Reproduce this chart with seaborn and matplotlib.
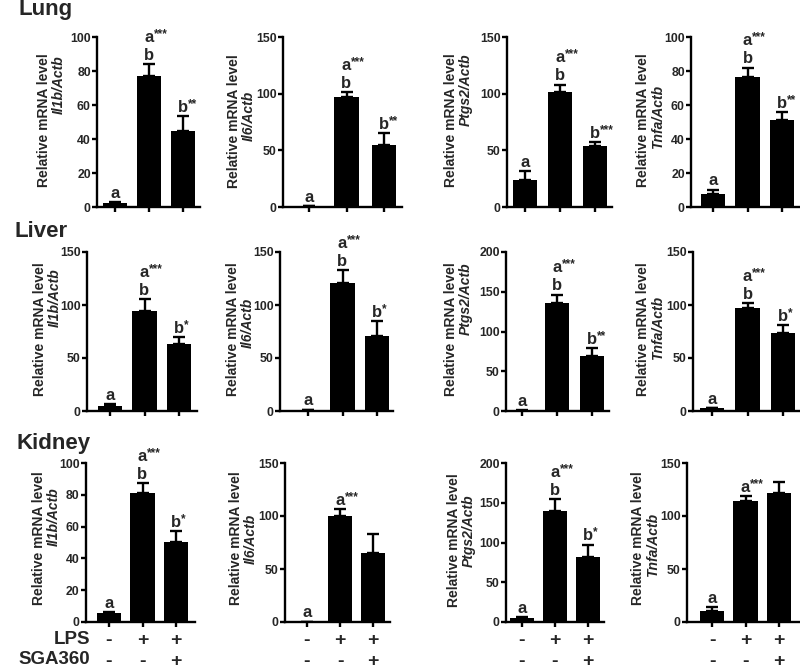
import numpy as np
import pandas as pd
import matplotlib
matplotlib.use("Agg")
import matplotlib.pyplot as plt
import seaborn as sns

sns.set_theme(style="ticks")
plt.rcParams["font.family"] = ["Liberation Sans", "DejaVu Sans"]
plt.rcParams["font.weight"] = "bold"

# ---------------- data ----------------
groups = ["Control", "LPS", "LPS+SGA360"]
lps_signs = ["-", "+", "+"]
sga_signs = ["-", "-", "+"]
tissues = ["Lung", "Liver", "Kidney"]
genes = ["Il1b", "Il6", "Ptgs2", "Tnfa"]

lung_il1b_mean = [2.5, 77, 45]
lung_il1b_sem = [0.3, 7, 8.5]
lung_il6_mean = [0.5, 97, 55]
lung_il6_sem = [0.2, 4.5, 10.5]
lung_ptgs2_mean = [23.5, 101.5, 53.5]
lung_ptgs2_sem = [8.3, 6.5, 4.1]
lung_tnfa_mean = [7.8, 76.5, 51.4]
lung_tnfa_sem = [2.4, 5.5, 4.6]

liver_il1b_mean = [5, 94.7, 63]
liver_il1b_sem = [1.3, 10.8, 7]
liver_il6_mean = [1, 120.6, 71]
liver_il6_sem = [0.3, 12, 14]
liver_ptgs2_mean = [0.5, 135.6, 69]
liver_ptgs2_sem = [0.2, 10.9, 10.6]
liver_tnfa_mean = [2.5, 97.5, 74]
liver_tnfa_sem = [0.5, 4, 7]

kidney_il1b_mean = [5.7, 81, 50.3]
kidney_il1b_sem = [0.6, 6.4, 7.1]
kidney_il6_mean = [0.3, 100, 65]
kidney_il6_sem = [0.1, 6.6, 17.7]
kidney_ptgs2_mean = [5, 139, 81.8]
kidney_ptgs2_sem = [1.3, 16, 15.5]
kidney_tnfa_mean = [10, 113.8, 121.7]
kidney_tnfa_sem = [4, 5.1, 10.1]

# significance letters, per bar listed bottom-to-top
lung_labels = [
    [["a"], ["b", "a***"], ["b**"]],
    [["a"], ["b", "a***"], ["b**"]],
    [["a"], ["b", "a***"], ["b***"]],
    [["a"], ["b", "a***"], ["b**"]],
]
liver_labels = [
    [["a"], ["b", "a***"], ["b*"]],
    [["a"], ["b", "a***"], ["b*"]],
    [["a"], ["b", "a***"], ["b**"]],
    [["a"], ["b", "a***"], ["b*"]],
]
kidney_labels = [
    [["a"], ["b", "a***"], ["b*"]],
    [["a"], ["a***"], []],
    [["a"], ["b", "a***"], ["b*"]],
    [["a"], ["a***"], []],
]

# y-axis max and tick step per panel
lung_ymax = [100, 150, 150, 100]
lung_ystep = [20, 50, 50, 20]
liver_ymax = [150, 150, 200, 150]
liver_ystep = [50, 50, 50, 50]
kidney_ymax = [100, 150, 200, 150]
kidney_ystep = [20, 50, 50, 50]

means = [
    [lung_il1b_mean, lung_il6_mean, lung_ptgs2_mean, lung_tnfa_mean],
    [liver_il1b_mean, liver_il6_mean, liver_ptgs2_mean, liver_tnfa_mean],
    [kidney_il1b_mean, kidney_il6_mean, kidney_ptgs2_mean, kidney_tnfa_mean],
]
sems = [
    [lung_il1b_sem, lung_il6_sem, lung_ptgs2_sem, lung_tnfa_sem],
    [liver_il1b_sem, liver_il6_sem, liver_ptgs2_sem, liver_tnfa_sem],
    [kidney_il1b_sem, kidney_il6_sem, kidney_ptgs2_sem, kidney_tnfa_sem],
]
labels = [lung_labels, liver_labels, kidney_labels]
ymaxs = [lung_ymax, liver_ymax, kidney_ymax]
ysteps = [lung_ystep, liver_ystep, kidney_ystep]

# ---------------- layout (pixels) ----------------
W, H = 800, 669
rows_y = [(37, 207), (252, 411), (463, 622)]
axes_x = [
    [(97, 200), (283, 402), (507, 612), (691, 799)],
    [(87, 197), (280, 393), (506, 609), (693, 799)],
    [(86, 195), (285, 390), (506, 604), (687, 799)],
]
bar_centers = [
    [(115, 183), (309, 384), (525, 595), (713, 782)],
    [(110, 179), (308, 377), (522, 592), (712, 783)],
    [(109, 176), (307, 373), (522, 588), (712, 779)],
]
bar_px = 24.5
# ylabel: line1 x, line2 x, line1 y, line2 y
ylab_pos = [
    [(44, 59, 120, 85), (234, 249, 121, 116), (451, 466, 120, 90), (643, 658, 120, 117)],
    [(40, 55, 329, 298), (233, 248, 329, 323), (451, 466, 329, 299), (643, 658, 329, 328)],
    [(39, 54, 538, 517), (236, 251, 538, 539), (454, 469, 540, 531), (638, 653, 538, 545)],
]
title_pos = [(18, 15), (15, 237), (17, 449)]

fig = plt.figure(figsize=(W / 100, H / 100), dpi=100)
fig.patch.set_facecolor("white")

LW = 1.7
for r in range(3):
    top, bot = rows_y[r]
    fig.text(title_pos[r][0] / W, 1 - title_pos[r][1] / H, tissues[r],
             fontsize=16, fontweight="bold", ha="left", va="baseline")
    for c in range(4):
        left, right = axes_x[r][c]
        c1, c3 = bar_centers[r][c]
        s = (c3 - c1) / 2.0
        ax = fig.add_axes([left / W, 1 - bot / H, (right - left) / W, (bot - top) / H])
        df = pd.DataFrame({"group": groups, "value": means[r][c]})
        sns.barplot(data=df, x="group", y="value", color="black", saturation=1,
                    width=bar_px / s, errorbar=None, ax=ax, linewidth=0)
        ax.errorbar(range(3), means[r][c], yerr=[np.zeros(3), sems[r][c]],
                    fmt="none", ecolor="black", elinewidth=LW, capsize=4.5, capthick=LW)
        ax.set_xlim((left - c1) / s, (right - c1) / s)
        ax.set_ylim(0, ymaxs[r][c])
        yt = np.arange(0, ymaxs[r][c] + 1, ysteps[r][c])
        ax.set_yticks(yt)
        ax.set_yticklabels([str(int(v)) for v in yt], fontsize=8.8, fontweight="bold")
        ax.set_xlabel("")
        ax.set_ylabel("")
        ax.set_facecolor("none")
        sns.despine(ax=ax)
        for sp in ["left", "bottom"]:
            ax.spines[sp].set_linewidth(LW)
            ax.spines[sp].set_color("black")
        ax.tick_params(axis="both", width=LW, length=3.5, direction="out",
                       color="black", pad=1.0)
        ax.set_xticks([0, 1, 2])
        if r == 2:
            ax.set_xticklabels([f"{a}\n{b}" for a, b in zip(lps_signs, sga_signs)],
                               fontsize=14, fontweight="bold", linespacing=1.3)
            ax.tick_params(axis="x", pad=4)
        else:
            ax.set_xticklabels(["", "", ""])

        # significance letters
        for i in range(3):
            ytop = means[r][c][i] + sems[r][c][i]
            for k, lab in enumerate(labels[r][c][i]):
                base = 3 + k * 13
                letter = lab.rstrip("*")
                stars = lab[len(letter):]
                ax.annotate(letter, xy=(i, ytop), xytext=(0, base),
                            textcoords="offset points", ha="center", va="baseline",
                            fontsize=12, fontweight="bold", annotation_clip=False)
                if stars:
                    ax.annotate(stars, xy=(i, ytop), xytext=(3.5, base + 3.5),
                                textcoords="offset points", ha="left", va="baseline",
                                fontsize=8.5, fontweight="bold", annotation_clip=False)

        # y labels
        x1, x2, y1, y2 = ylab_pos[r][c]
        fig.text(x1 / W, 1 - y1 / H, "Relative mRNA level", rotation=90,
                 fontsize=10, fontweight="bold", ha="center", va="center")
        fig.text(x2 / W, 1 - y2 / H, f"{genes[c]}/Actb", rotation=90,
                 fontsize=10, fontweight="bold", fontstyle="italic",
                 ha="center", va="center")

fig.text(90 / W, 1 - 639 / H, "LPS", fontsize=13.5, fontweight="bold",
         ha="right", va="center")
fig.text(90 / W, 1 - 659 / H, "SGA360", fontsize=13.5, fontweight="bold",
         ha="right", va="center")

fig.savefig("out.png", dpi=100, facecolor="white")
